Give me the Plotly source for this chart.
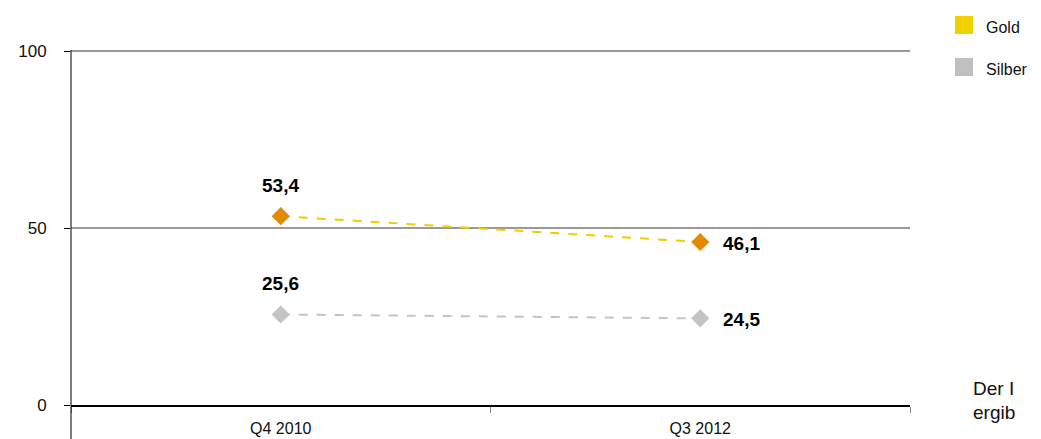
import plotly.graph_objects as go

categories = ["Q4 2010", "Q3 2012"]
gold = [53.4, 46.1]
silber = [25.6, 24.5]
legend_names = ["Gold", "Silber"]
legend_colors = ["#F2D100", "#C0C0C0"]
y_ticks = [0, 50, 100]


def de(v):
    return f"{v:.1f}".replace(".", ",")


L, R, T, B = 71, 131, 50, 34
PW, PH = 1041 - L - R, 439 - T - B


def px(x):
    return (x - L) / PW


def py(y):
    return (439 - B - y) / PH


fig = go.Figure()

series = [
    (gold, "#F2CD00", "#E38A00"),
    (silber, "#C4C4C4", "#C4C4C4"),
]
for vals, lc, mc in series:
    fig.add_trace(go.Scatter(
        x=categories, y=vals,
        mode="lines+markers",
        line=dict(color=lc, width=2, dash="dash"),
        marker=dict(symbol="diamond", size=14, color=mc),
        showlegend=False, cliponaxis=False,
    ))
    # value labels: first above, second to the right
    lab = dict(family="Arial", size=19, color="black", weight="bold")
    fig.add_annotation(x=categories[0], y=vals[0], text=de(vals[0]), showarrow=False,
                       yshift=31, font=lab)
    fig.add_annotation(x=categories[1], y=vals[1], text=de(vals[1]), showarrow=False,
                       xanchor="left", xshift=21, yshift=-1, font=lab)

# legend swatches drawn by hand
for i, (name, col) in enumerate(zip(legend_names, legend_colors)):
    yc = 25 + 42 * i
    fig.add_shape(type="rect", xref="paper", yref="paper",
                  x0=px(955), x1=px(973), y0=py(yc + 9), y1=py(yc - 9),
                  fillcolor=col, line=dict(width=0))
    fig.add_annotation(text=name, xref="paper", yref="paper", x=px(984), y=py(yc + 2),
                       showarrow=False, xanchor="left", yanchor="middle",
                       font=dict(family="Arial", size=16, color="#111"))

# y axis line extending below the plot area
fig.add_shape(type="line", xref="paper", yref="paper", x0=0, x1=0, y0=py(439), y1=1,
              line=dict(color="black", width=1))

for txt, yy in [("Der I", 388), ("ergib", 412)]:
    fig.add_annotation(text=txt, xref="paper", yref="paper", x=px(971), y=py(yy),
                       showarrow=False, xanchor="left", yanchor="middle",
                       font=dict(family="Arial", size=19, color="#111"))

fig.update_layout(
    width=1041, height=439,
    margin=dict(l=L, r=R, t=T, b=B, autoexpand=False),
    plot_bgcolor="white", paper_bgcolor="white",
    font=dict(family="Arial", size=16, color="#111"),
    showlegend=False,
    xaxis=dict(type="category", tickson="boundaries", ticks="outside", ticklen=6,
               tickcolor="#888", showline=True, linecolor="black", linewidth=2,
               showgrid=False, tickfont=dict(size=16), range=[-0.5, 1.5],
               ticklabelstandoff=8),
    yaxis=dict(range=[0, 100.4], tickvals=y_ticks, ticks="outside", ticklen=6,
               tickcolor="black", showline=False, gridcolor="#999999", gridwidth=2,
               zeroline=False, tickfont=dict(size=17), ticklabelstandoff=14),
)

fig.write_html("out.html", config=dict(displayModeBar=False),
               post_script="document.body.style.margin='0';")
